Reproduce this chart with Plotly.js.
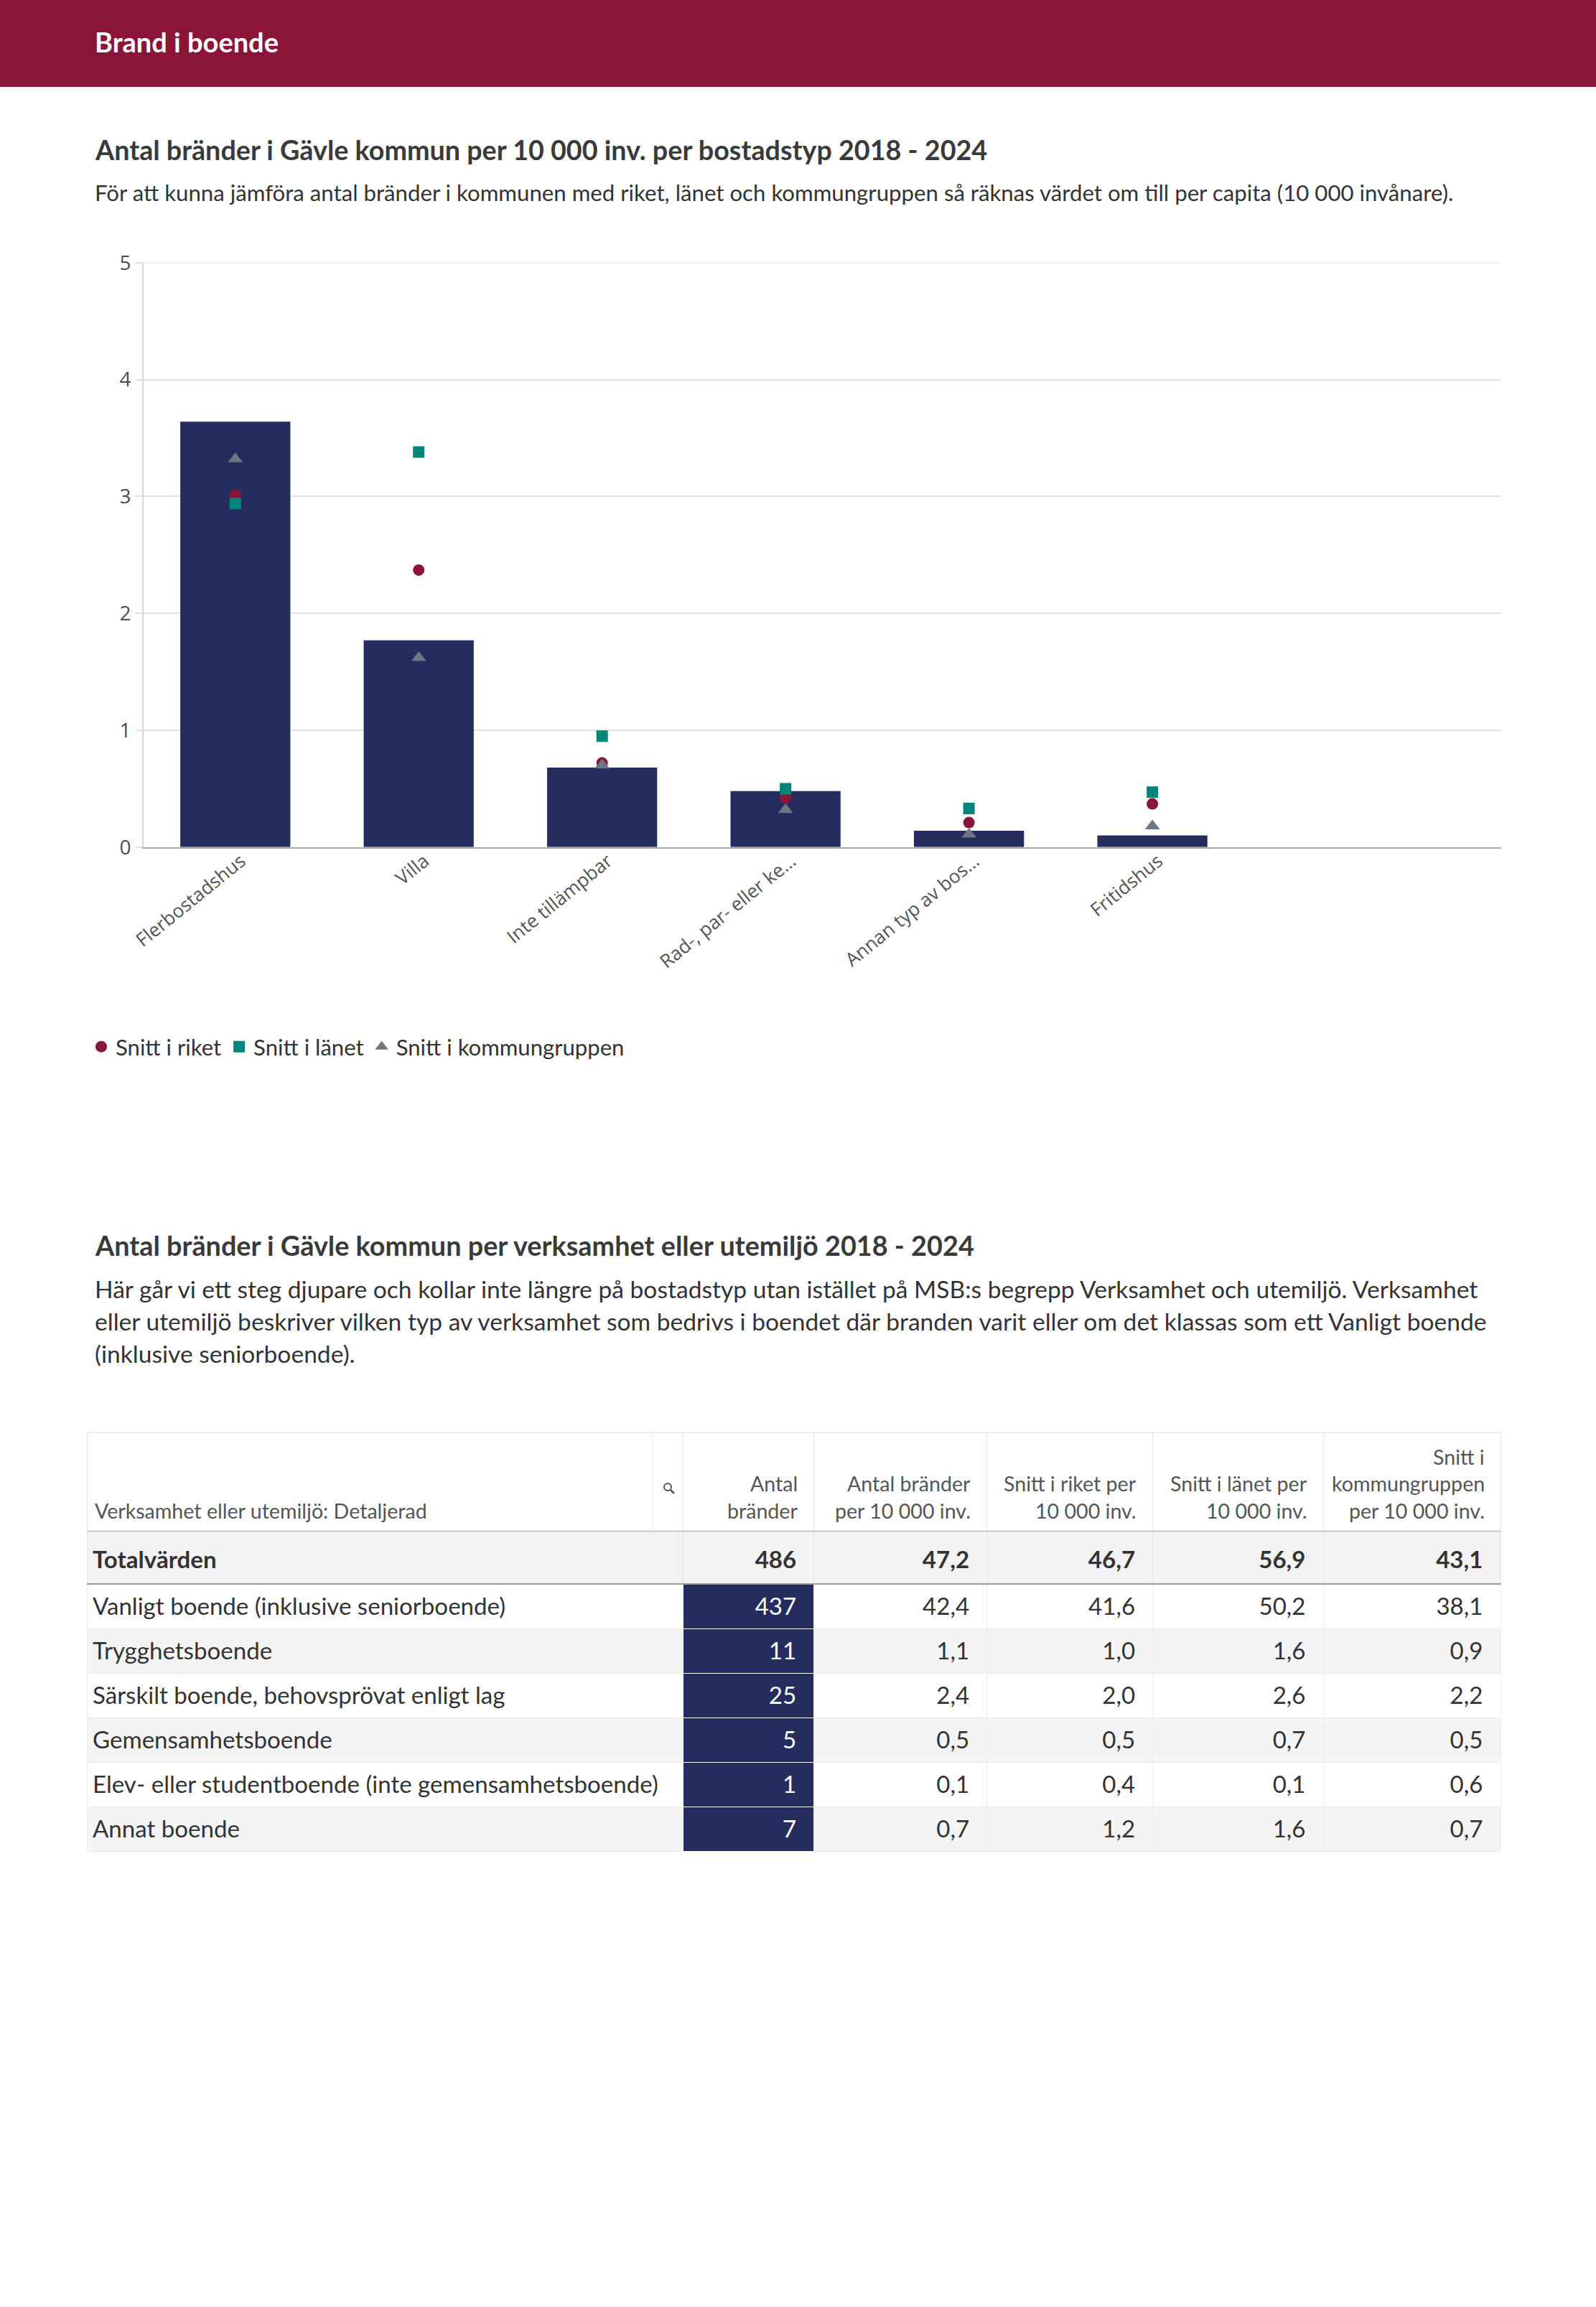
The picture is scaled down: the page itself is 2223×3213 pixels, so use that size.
<!DOCTYPE html>
<html><head><meta charset="utf-8">
<script src="https://cdn.plot.ly/plotly-3.0.1.min.js"></script>
<style>html,body{margin:0;padding:0;background:#fff}#chart{width:2223px;height:3213px}</style>
</head><body><div id="chart"></div>
<script>
// ---------------- data ----------------
const pageTitle = 'Brand i boende';
const chartTitle = 'Antal bränder i Gävle kommun per 10 000 inv. per bostadstyp 2018 - 2024';
const chartSubtitle = 'För att kunna jämföra antal bränder i kommunen med riket, länet och kommungruppen så räknas värdet om till per capita (10 000 invånare).';

const categories = ['Flerbostadshus', 'Villa', 'Inte tillämpbar', 'Rad-, par- eller ke…', 'Annan typ av bos…', 'Fritidshus'];
const kommunValues = [3.64, 1.77, 0.68, 0.48, 0.14, 0.10];
const riketValues = [3.01, 2.37, 0.72, 0.42, 0.21, 0.37];
const lanetValues = [2.94, 3.38, 0.95, 0.50, 0.33, 0.47];
const kommungruppValues = [3.32, 1.62, 0.70, 0.32, 0.11, 0.18];
const seriesNames = ['Snitt i riket', 'Snitt i länet', 'Snitt i kommungruppen'];
const yTicks = [0, 1, 2, 3, 4, 5];

const tableTitle = 'Antal bränder i Gävle kommun per verksamhet eller utemiljö 2018 - 2024';
const tableText = [
  'Här går vi ett steg djupare och kollar inte längre på bostadstyp utan istället på MSB:s begrepp Verksamhet och utemiljö. Verksamhet',
  'eller utemiljö beskriver vilken typ av verksamhet som bedrivs i boendet där branden varit eller om det klassas som ett Vanligt boende',
  '(inklusive seniorboende).'
];
const tableHeaders = [
  ['Verksamhet eller utemiljö: Detaljerad'],
  ['Antal', 'bränder'],
  ['Antal bränder', 'per 10 000 inv.'],
  ['Snitt i riket per', '10 000 inv.'],
  ['Snitt i länet per', '10 000 inv.'],
  ['Snitt i', 'kommungruppen', 'per 10 000 inv.']
];
const totalLabel = 'Totalvärden';
const totalValues = [486, 47.2, 46.7, 56.9, 43.1];
const rowLabels = [
  'Vanligt boende (inklusive seniorboende)',
  'Trygghetsboende',
  'Särskilt boende, behovsprövat enligt lag',
  'Gemensamhetsboende',
  'Elev- eller studentboende (inte gemensamhetsboende)',
  'Annat boende'
];
const antalBrander = [437, 11, 25, 5, 1, 7];
const branderPer10k = [42.4, 1.1, 2.4, 0.5, 0.1, 0.7];
const riketPer10k = [41.6, 1.0, 2.0, 0.5, 0.4, 1.2];
const lanetPer10k = [50.2, 1.6, 2.6, 0.7, 0.1, 1.6];
const kommungruppPer10k = [38.1, 0.9, 2.2, 0.5, 0.6, 0.7];

// ---------------- helpers ----------------
const W = 2223, H = 3213;
const px = x => x / W;
const py = y => 1 - y / H;
const ctx = document.createElement('canvas').getContext('2d');
function fit(text, family, weight, target) {
  ctx.font = weight + ' 100px "' + family + '"';
  return Math.round(10 * 100 * target / ctx.measureText(text).width) / 10;
}
const SP = '\u2002';
const dec = v => v.toFixed(1).replace('.', ',');

const NAVY = '#252d5e', MAROON = '#8b1538', TEAL = '#00857a', GREY = '#6d7682';
const TXT = '#333333';
const CLEAR = 'rgba(0,0,0,0)';
const GRID = '#e2e2e2';

const headSize = fit(pageTitle, 'Lato', 'bold', 256);
const titleSize = fit(chartTitle, 'Lato', 'bold', 1244);
const subSize = fit(chartSubtitle, 'Lato', 'normal', 1894);
const title2Size = fit(tableTitle, 'Lato', 'bold', 1228);
const paraSize = fit(tableText[1], 'Lato', 'normal', 1945);
const legendSize = fit('Snitt i kommungruppen', 'Lato', 'normal', 318);
const tickSize = fit('Flerbostadshus', 'Open Sans', 'normal', 187);
const thSize = fit('Verksamhet eller utemiljö: Detaljerad', 'Lato', 'normal', 464);
const tdSize = fit('Elev- eller studentboende (inte gemensamhetsboende)', 'Lato', 'normal', 789);

// ---------------- chart traces ----------------
const traces = [];
traces.push({
  type: 'bar', x: categories, y: kommunValues, width: 0.6,
  marker: {color: NAVY, line: {width: 0}}, showlegend: false, hoverinfo: 'skip'
});
const markerSpecs = [
  {vals: riketValues, symbol: 'circle', color: MAROON, size: 16},
  {vals: lanetValues, symbol: 'square', color: TEAL, size: 16},
  {vals: kommungruppValues, symbol: 'triangle-up', color: GREY, size: 18}
];
markerSpecs.forEach((s, i) => traces.push({
  type: 'scatter', mode: 'markers', x: categories, y: s.vals, name: seriesNames[i],
  marker: {symbol: s.symbol, color: s.color, size: s.size, line: {width: 0}}, hoverinfo: 'skip'
}));

// ---------------- table traces ----------------
const TX0 = 121, TX1 = 2090.5;
const colAlign = ['left', 'right', 'right', 'right', 'right', 'right'];
const colW = [831, 182, 241, 231, 237.5, 247];
const blankCols = n => colW.map(() => Array(n).fill(''));
const hiddenHeader = {values: colW.map(() => ''), height: 1, fill: {color: CLEAR}, line: {width: 0, color: CLEAR}, font: {size: 1, color: CLEAR}};
const TEXT_DY = 10;
const HEAD_TOP = 1995, HEAD_H = 137.5, TOTAL_H = 73.5, ROW_H = 62;
const BODY_TOP = HEAD_TOP + HEAD_H + TOTAL_H;

// header + total row backgrounds
traces.push({
  type: 'table', domain: {x: [px(TX0), px(TX1)], y: [py(BODY_TOP + 6), py(HEAD_TOP)]},
  columnwidth: colW,
  header: {values: colW.map(() => ''), height: HEAD_H, fill: {color: '#ffffff'}, line: {color: '#e8e8e8', width: 1}},
  cells: {values: blankCols(1), height: TOTAL_H, fill: {color: '#f3f3f3'}, line: {color: '#e8e8e8', width: 1}}
});
// body backgrounds
const stripe = rowLabels.map((_, r) => r % 2 ? '#f4f4f4' : '#ffffff');
traces.push({
  type: 'table', domain: {x: [px(TX0), px(TX1)], y: [py(BODY_TOP + rowLabels.length * ROW_H + 12), py(BODY_TOP - 1)]},
  columnwidth: colW, header: hiddenHeader,
  cells: {
    values: blankCols(rowLabels.length), height: ROW_H,
    fill: {color: [stripe, rowLabels.map(() => NAVY), stripe, stripe, stripe, stripe]},
    line: {color: ['#ececec', '#ffffff', '#ececec', '#ececec', '#ececec', '#ececec'], width: 1}
  }
});
// total row text
traces.push({
  type: 'table', domain: {x: [px(TX0), px(TX1)], y: [py(BODY_TOP + TEXT_DY + 20), py(BODY_TOP - TOTAL_H - 1 + TEXT_DY)]},
  columnwidth: colW, header: hiddenHeader,
  cells: {
    values: [['<b>' + totalLabel + '</b>']].concat(totalValues.map((v, i) => ['<b>' + (i === 0 ? String(v) : dec(v)) + '</b>' + SP])),
    align: colAlign, height: TOTAL_H,
    font: {family: 'Lato', size: tdSize, color: TXT},
    fill: {color: CLEAR}, line: {width: 0, color: CLEAR}
  }
});
// body text
traces.push({
  type: 'table', domain: {x: [px(TX0), px(TX1)], y: [py(BODY_TOP + rowLabels.length * ROW_H + 40), py(BODY_TOP - 1 + TEXT_DY)]},
  columnwidth: colW, header: hiddenHeader,
  cells: {
    values: [
      rowLabels,
      antalBrander.map(v => String(v) + SP),
      branderPer10k.map(v => dec(v) + SP),
      riketPer10k.map(v => dec(v) + SP),
      lanetPer10k.map(v => dec(v) + SP),
      kommungruppPer10k.map(v => dec(v) + SP)
    ],
    align: colAlign, height: ROW_H,
    font: {family: 'Lato', size: tdSize, color: [TXT, '#ffffff', TXT, TXT, TXT, TXT]},
    fill: {color: CLEAR}, line: {width: 0, color: CLEAR}
  }
});

// ---------------- layout ----------------
const ann = (text, x, y, size, opts) => Object.assign({
  text: text, xref: 'paper', yref: 'paper', x: px(x), y: py(y), xanchor: 'left', yanchor: 'middle',
  showarrow: false, font: {family: 'Lato', size: size, color: TXT}
}, opts || {});

const annotations = [
  ann(pageTitle, 130, 58, headSize, {font: {family: 'Lato', size: headSize, color: '#ffffff', weight: 700}}),
  ann(chartTitle, 130, 209, titleSize, {font: {family: 'Lato', size: titleSize, color: '#3a3a3a', weight: 700}}),
  ann(chartSubtitle, 130, 268, subSize),
  ann(tableTitle, 130, 1734, title2Size, {font: {family: 'Lato', size: title2Size, color: '#3a3a3a', weight: 700}}),
  ann(tableText[0], 130, 1795, paraSize),
  ann(tableText[1], 130, 1840, paraSize),
  ann(tableText[2], 130, 1885, paraSize)
];
// column header labels, bottom-aligned, inside the header cells
let colEdge = TX0;
const colRights = colW.map(w => (colEdge += w));
tableHeaders.forEach((lines, c) => {
  lines.forEach((txt, k) => {
    const yLine = 2103.5 - (lines.length - 1 - k) * 37.4;
    annotations.push(ann(txt, c === 0 ? 130 : colRights[c] - 21, yLine, thSize, {
      xanchor: c === 0 ? 'left' : 'right', font: {family: 'Lato', size: thSize, color: '#555555'}
    }));
  });
});

const line = (x0, y0, x1, y1, color, w) => ({
  type: 'line', xref: 'paper', yref: 'paper', x0: px(x0), y0: py(y0), x1: px(x1), y1: py(y1),
  line: {color: color, width: w}
});
const shapes = [
  {type: 'rect', xref: 'paper', yref: 'paper', x0: 0, x1: 1, y0: py(121), y1: 1, fillcolor: MAROON, line: {width: 0}, layer: 'below'},
  // top gridline of the value axis (at the range edge)
  {type: 'line', xref: 'paper', yref: 'y', x0: px(190), x1: px(2090.5), y0: yTicks[yTicks.length - 1], y1: yTicks[yTicks.length - 1], line: {color: GRID, width: 2}, layer: 'below'},
  line(TX0, HEAD_TOP, TX1, HEAD_TOP, '#ececec', 1.5),
  line(TX0, HEAD_TOP + HEAD_H, TX1, HEAD_TOP + HEAD_H, '#c8c8c8', 2),
  line(TX0, BODY_TOP, TX1, BODY_TOP, '#9a9a9a', 2),
  line(909, HEAD_TOP, 909, HEAD_TOP + HEAD_H, '#e8e8e8', 1),
  {type: 'circle', xref: 'paper', yref: 'paper', x0: px(925), x1: px(935), y0: py(2066), y1: py(2076), line: {color: '#555', width: 2}},
  line(934, 2075, 939, 2080, '#555', 2.5)
];

const layout = {
  width: W, height: H,
  margin: {l: 0, r: 0, t: 0, b: 0, pad: 0},
  paper_bgcolor: '#ffffff', plot_bgcolor: '#ffffff',
  font: {family: 'Lato', color: TXT},
  bargap: 0.4,
  xaxis: {
    domain: [px(200), px(2090.5)], range: [-0.5, 6.9], type: 'category',
    showline: true, linecolor: '#a8a8a8', linewidth: 2, showgrid: false, zeroline: false,
    ticks: '', tickangle: -39, automargin: false,
    ticklabelstandoff: -8, ticklabelshift: 8,
    tickfont: {family: 'Open Sans', size: tickSize, color: '#555555'}
  },
  yaxis: {
    domain: [py(1179.8), py(365.8)], range: [0, 5], tickvals: yTicks,
    showline: true, linecolor: '#d6d6d6', linewidth: 2,
    showgrid: true, gridcolor: GRID, gridwidth: 2, zeroline: false,
    ticks: 'outside', ticklen: 10, tickcolor: GRID, tickwidth: 2, automargin: false,
    tickfont: {family: 'Open Sans', size: 28, color: '#4d4d4d'}
  },
  showlegend: true,
  legend: {
    orientation: 'h', x: px(121), y: py(1458), xanchor: 'left', yanchor: 'middle',
    font: {family: 'Lato', size: legendSize, color: TXT}, bgcolor: CLEAR,
    itemclick: false, itemdoubleclick: false
  },
  annotations: annotations,
  shapes: shapes
};

Plotly.newPlot('chart', traces, layout, {staticPlot: true, displayModeBar: false});
</script>
</body></html>
